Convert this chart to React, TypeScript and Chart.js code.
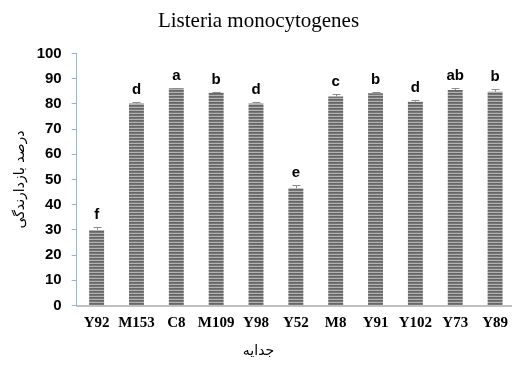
import React, { useEffect, useRef } from "react";
import { Chart, registerables } from "chart.js";

Chart.register(...registerables);

const categories = ["Y92", "M153", "C8", "M109", "Y98", "Y52", "M8", "Y91", "Y102", "Y73", "Y89"];
const values = [30.0, 80.2, 86.2, 84.4, 80.2, 46.5, 82.9, 84.2, 80.9, 85.5, 84.8];
const errors = [1.3, 0.6, 0.3, 0.3, 0.6, 1.3, 1.0, 0.4, 0.8, 0.9, 1.1];
const letters = ["f", "d", "a", "b", "d", "e", "c", "b", "d", "ab", "b"];
const yTicks = [0, 10, 20, 30, 40, 50, 60, 70, 80, 90, 100];

const titleText = "Listeria monocytogenes";
const yTitle = "درصد بازدارندگی";
const xTitle = "جدایه";

function makePattern(): CanvasPattern | string {
  const c = document.createElement("canvas");
  c.width = 1;
  c.height = 3;
  const g = c.getContext("2d");
  if (!g) return "#808080";
  g.fillStyle = "#666666";
  g.fillRect(0, 0, 1, 1);
  g.fillStyle = "#767676";
  g.fillRect(0, 1, 1, 1);
  g.fillStyle = "#b2b2b2";
  g.fillRect(0, 2, 1, 1);
  const p = g.createPattern(c, "repeat");
  return p || "#808080";
}

const annotPlugin = {
  id: "annot",
  afterDatasetsDraw(chart: any) {
    const ctx = chart.ctx;
    const meta = chart.getDatasetMeta(0);
    const y = chart.scales.y;
    meta.data.forEach((bar: any, i: number) => {
      const x = Math.round(bar.x) + 0.5;
      const top = Math.round(y.getPixelForValue(values[i] + errors[i])) + 0.5;
      const base = y.getPixelForValue(values[i]);
      ctx.save();
      ctx.strokeStyle = "#8c8c8c";
      ctx.lineWidth = 1;
      ctx.beginPath();
      ctx.moveTo(x, base);
      ctx.lineTo(x, top);
      ctx.moveTo(x - 4, top);
      ctx.lineTo(x + 4, top);
      ctx.stroke();
      ctx.fillStyle = "#000";
      ctx.font = 'bold 15px "Liberation Sans", Arial, sans-serif';
      ctx.textAlign = "center";
      ctx.textBaseline = "alphabetic";
      ctx.fillText(letters[i], bar.x, top - 9);
      ctx.restore();
    });
  },
  afterDraw(chart: any) {
    const ctx = chart.ctx;
    ctx.save();
    ctx.fillStyle = "#000";
    ctx.font = '14px "DejaVu Sans", sans-serif';
    ctx.textAlign = "center";
    ctx.textBaseline = "middle";
    ctx.fillText(xTitle, chart.width / 2, chart.height - 21);
    ctx.restore();
  },
};

export default function App() {
  const ref = useRef<HTMLCanvasElement | null>(null);
  useEffect(() => {
    if (!ref.current) return;
    const chart = new Chart(ref.current, {
      type: "bar",
      data: {
        labels: categories,
        datasets: [
          {
            data: values,
            backgroundColor: makePattern() as any,
            borderWidth: 0,
            barPercentage: 0.375,
            categoryPercentage: 1,
          },
        ],
      },
      options: {
        responsive: false,
        animation: false,
        layout: { padding: 0, autoPadding: false } as any,
        plugins: {
          legend: { display: false },
          tooltip: { enabled: false },
          title: {
            display: true,
            text: titleText,
            color: "#000",
            font: { family: '"Liberation Serif", "Times New Roman", serif', size: 21, weight: "normal" as any, lineHeight: 1.2 },
            padding: { top: 9, bottom: 19.3 },
          },
        },
        scales: {
          x: {
            grid: { display: false, drawTicks: false },
            border: { display: true, color: "#c0c0c0", width: 2 },
            ticks: {
              color: "#000",
              padding: 9,
              maxRotation: 0,
              autoSkip: false,
              font: { family: '"Liberation Serif", "Times New Roman", serif', size: 15, weight: "bold" as any },
            },
            title: { display: false },
            afterFit: (s: any) => {
              s.height = 66.5;
            },
          },
          y: {
            min: 0,
            max: 100,
            afterBuildTicks: (s: any) => {
              s.ticks = yTicks.map((v) => ({ value: v }));
            },
            grid: { drawOnChartArea: false, drawTicks: true, tickLength: 5, color: "#8eb4e3" },
            border: { display: true, color: "#8eb4e3", width: 1 },
            ticks: {
              color: "#000",
              padding: 10,
              font: { family: '"Liberation Sans", Arial, sans-serif', size: 15, weight: "bold" as any },
            },
            title: {
              display: true,
              text: yTitle,
              color: "#000",
              font: { family: '"DejaVu Sans", sans-serif', size: 14, weight: "normal" as any, lineHeight: 1.2 },
              padding: { top: 12, bottom: 0 },
            },
            afterFit: (s: any) => {
              s.width = 76.7;
            },
          },
        },
      },
      plugins: [annotPlugin],
    });
    return () => chart.destroy();
  }, []);
  return (
    <div style={{ position: "fixed", left: 0, top: 0, width: 517, height: 372, background: "#fff" }}>
      <canvas ref={ref} width={517} height={372} style={{ display: "block" }} />
    </div>
  );
}
